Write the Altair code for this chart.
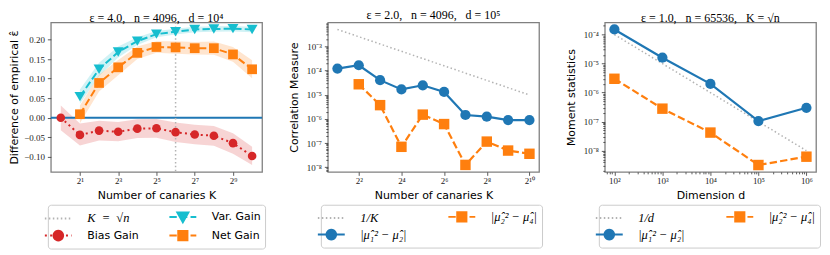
import math
import altair as alt
import pandas as pd

# ---------------- data ----------------
# Panel 1: eps = 4.0, n = 4096, d = 1e4
p1_K = [1, 2, 4, 8, 16, 32, 64, 128, 256, 512, 1024]
p1_bias = [0.000, -0.044, -0.033, -0.036, -0.028, -0.027, -0.037, -0.043, -0.046, -0.065, -0.098]
p1_bias_lo = [-0.032, -0.071, -0.058, -0.060, -0.052, -0.051, -0.062, -0.068, -0.072, -0.092, -0.121]
p1_bias_hi = [0.031, -0.015, -0.008, -0.011, -0.004, -0.003, -0.012, -0.018, -0.021, -0.040, -0.074]

p1_gain_K = [2, 4, 8, 16, 32, 64, 128, 256, 512, 1024]
p1_var = [0.054, 0.124, 0.168, 0.196, 0.214, 0.220, 0.226, 0.227, 0.228, 0.226]
p1_var_lo = [0.036, 0.107, 0.154, 0.186, 0.206, 0.213, 0.219, 0.220, 0.221, 0.219]
p1_var_hi = [0.072, 0.141, 0.182, 0.206, 0.222, 0.228, 0.233, 0.234, 0.235, 0.233]
p1_net = [0.009, 0.089, 0.129, 0.166, 0.181, 0.180, 0.178, 0.178, 0.162, 0.124]
p1_net_lo = [-0.014, 0.067, 0.109, 0.150, 0.166, 0.164, 0.162, 0.161, 0.143, 0.101]
p1_net_hi = [0.031, 0.110, 0.148, 0.182, 0.196, 0.196, 0.194, 0.195, 0.181, 0.147]
p1_sqrt_n = [64]
p1_zero = [0.0]

# Panel 2: eps = 2.0, n = 4096, d = 1e5
p2_K = [2, 4, 8, 16, 32, 64, 128, 256, 512, 1024]
p2_m1 = [1.2e-4, 1.65e-4, 4.0e-5, 1.65e-5, 2.45e-5, 1.3e-5, 1.45e-6, 1.23e-6, 8.9e-7, 8.9e-7]
p2_m2_K = [4, 8, 16, 32, 64, 128, 256, 512, 1024]
p2_m2 = [2.7e-5, 3.7e-6, 7.0e-8, 1.5e-6, 6.1e-7, 1.25e-8, 1.15e-7, 4.9e-8, 3.6e-8]
p2_ref = [5.0e-3, 2.5e-3, 1.25e-3, 6.25e-4, 3.125e-4, 1.5625e-4, 7.8125e-5, 3.90625e-5, 1.953125e-5, 9.765625e-6]

# Panel 3: eps = 1.0, n = 65536, K = sqrt(n)
p3_d = [1e2, 1e3, 1e4, 1e5, 1e6]
p3_m1 = [1.5e-4, 1.6e-5, 2.0e-6, 1.05e-7, 3.0e-7]
p3_m2 = [3.0e-6, 2.8e-7, 4.2e-8, 3.2e-9, 6.2e-9]
p3_ref = [1e-4, 1e-5, 1e-6, 1e-7, 1e-8]

# ---------------- styling ----------------
BLUE, ORANGE, RED, CYAN, GRAY = "#1f77b4", "#ff7f0e", "#d62728", "#17becf", "#b3b3b3"
DOT = [2, 3.3]
DASH = [7.4, 3.2]
REFDOT = [1.5, 2.5]
W, H = 212, 150
SANS = "DejaVu Sans"
SERIF = "Liberation Serif"
EN = "\u2002"

SUP = "['⁰','¹','²','³','⁴','⁵','⁶','⁷','⁸','⁹']"


def sup_expr(e):
    return (f"(({e})<0?'⁻':'')+(abs({e})>=10?{SUP}[floor(abs({e})/10)]:'')"
            f"+{SUP}[abs({e})%10]")


POW2 = "'2'+" + sup_expr("round(log(datum.value)/LN2)")
MINOR10 = "abs(log(datum.value)/LN10-round(log(datum.value)/LN10))>0.001"
POW10 = f"{MINOR10}?'':'10'+" + "(" + sup_expr("round(log(datum.value)/LN10)") + ")"
TICK10 = {"condition": {"test": MINOR10, "value": 2}, "value": 3.5}


def log10_ticks(lo, hi):
    """major + minor tick positions of a decade axis inside [lo, hi]."""
    out = []
    for k in range(math.floor(math.log10(lo)) - 1, math.ceil(math.log10(hi)) + 1):
        for m in range(1, 10):
            v = m * 10.0 ** k
            if lo <= v <= hi:
                out.append(v)
    return out


# ---- legend symbol paths (line handle + marker), in symbol units ----
S = 7.0      # sqrt(symbolSize)/2
HALF = 13.5  # half handle length in px


def f(v):
    return f"{v / S:.3f}"


def line_path(pattern):
    segs = []
    if not pattern:
        segs = [(-HALF, HALF)]
    else:
        x, i = -HALF, 0
        while x < HALF:
            L = pattern[i % 2]
            if i % 2 == 0:
                segs.append((x, min(x + L, HALF)))
            x += L
            i += 1
    return "".join(f"M{f(a)},0L{f(b)},0" for a, b in segs)


def circle_path(r=4.8, n=24):
    pts = [(r * math.cos(2 * math.pi * i / n), r * math.sin(2 * math.pi * i / n)) for i in range(n)]
    return "M" + "L".join(f"{f(x)},{f(y)}" for x, y in pts) + "Z"


def square_path(h=4.6):
    return f"M{f(-h)},{f(-h)}L{f(h)},{f(-h)}L{f(h)},{f(h)}L{f(-h)},{f(h)}Z"


def tri_path():
    return f"M{f(-5.5)},{f(-4.5)}L{f(5.5)},{f(-4.5)}L{f(0)},{f(5.2)}Z"


def ternary(mapping, default, quote=True):
    q = "'" if quote else ""
    expr = f"{q}{default}{q}"
    for k, v in reversed(list(mapping.items())):
        expr = f"datum.value==='{k}'?{q}{v}{q}:({expr})"
    return expr


def make_legend(x, y, colpad, entries):
    # entries: list of (label, color, marker_path or None, dash pattern, is_math)
    shape_map = {lab: line_path(d) + (m or "") for lab, c, m, d, _ in entries}
    stroke_map = {lab: c for lab, c, m, d, _ in entries}
    font_map = {lab: (SERIF if mth else SANS) for lab, c, m, d, mth in entries}
    style_map = {lab: ("italic" if mth else "normal") for lab, c, m, d, mth in entries}
    fsize_map = {lab: (12.5 if mth else 11) for lab, c, m, d, mth in entries}
    return alt.Legend(
        title=None, orient="none", legendX=x, legendY=y, columns=2, direction="vertical",
        columnPadding=colpad, rowPadding=0, symbolSize=196, symbolOffset=-1.5,
        labelOffset=21, symbolStrokeWidth=2, padding=4, fillColor="white",
        strokeColor="#cccccc", cornerRadius=3, labelColor="black",
        labelLimit=300, symbolOpacity=1, titlePadding=0,
        symbolType={"expr": ternary(shape_map, "circle")},
        symbolStrokeColor={"expr": ternary(stroke_map, "black")},
        labelFont={"expr": ternary(font_map, SANS)},
        labelFontStyle={"expr": ternary(style_map, "normal")},
        labelFontSize={"expr": ternary(fsize_map, 11, quote=False)},
    )


def title(text):
    return alt.TitleParams(text, font=SERIF, fontSize=12, fontWeight="normal", offset=-3, color="black")


def carrier(labels, xs, ys, cs, leg, X, Y):
    # invisible marks that only carry the legend
    df = pd.DataFrame({"x": xs, "y": ys, "s": labels})
    return alt.Chart(df).mark_point(filled=True, opacity=0).encode(
        x=X, y=Y, color=alt.Color("s:N", scale=cs, legend=leg))


LEG_Y = 183


# ---------------- panel 1 ----------------
def panel1():
    L_REF, L_VAR, L_BIAS, L_NET = f"K{EN}={EN}√n", "Var. Gain", "Bias Gain", "Net Gain"
    dom = [L_REF, L_BIAS, L_VAR, L_NET]
    cs = alt.Scale(domain=dom, range=[GRAY, RED, CYAN, ORANGE])
    leg = make_legend(-3, LEG_Y, 25, [
        (L_REF, GRAY, None, REFDOT, True),
        (L_BIAS, RED, circle_path(), DOT, False),
        (L_VAR, CYAN, tri_path(), DASH, False),
        (L_NET, ORANGE, square_path(), DASH, False),
    ])
    X = alt.X("x:Q", scale=alt.Scale(type="log", base=2, domain=[2 ** -0.52, 2 ** 10.52], nice=False, zero=False),
              axis=alt.Axis(values=[2, 8, 32, 128, 512], labelExpr=POW2, title="Number of canaries K"))
    ys = alt.Scale(domain=[-0.1385, 0.244], nice=False, zero=False)
    yax = alt.Axis(values=[-0.10, -0.05, 0.0, 0.05, 0.10, 0.15, 0.20], format=".2f",
                   title="Difference of empirical ε̂", titlePadding=4)
    Y = alt.Y("y:Q", scale=ys, axis=yax)

    bias = pd.DataFrame({"x": p1_K, "y": p1_bias, "lo": p1_bias_lo, "hi": p1_bias_hi})
    var = pd.DataFrame({"x": p1_gain_K, "y": p1_var, "lo": p1_var_lo, "hi": p1_var_hi})
    net = pd.DataFrame({"x": p1_gain_K, "y": p1_net, "lo": p1_net_lo, "hi": p1_net_hi})
    ref = pd.DataFrame({"x": p1_sqrt_n})
    zero = pd.DataFrame({"y": p1_zero})

    def band(df, c):
        return alt.Chart(df).mark_area(color=c, opacity=0.2).encode(
            x=X, y=alt.Y("lo:Q", scale=ys, axis=yax), y2="hi:Q")

    def line(df, c, dash):
        return alt.Chart(df).mark_line(color=c, strokeWidth=2, strokeDash=dash).encode(x=X, y=Y)

    def pts(df, c, shape, size):
        return alt.Chart(df).mark_point(filled=True, shape=shape, size=size, color=c, opacity=1).encode(x=X, y=Y)

    layers = [
        band(bias, RED), band(var, CYAN), band(net, ORANGE),
        alt.Chart(zero).mark_rule(color=BLUE, strokeWidth=2).encode(y=Y),
        alt.Chart(ref).mark_rule(color=GRAY, strokeWidth=1.5, strokeDash=REFDOT).encode(x=X),
        line(bias, RED, DOT), line(var, CYAN, DASH), line(net, ORANGE, DASH),
        pts(bias, RED, "circle", 75), pts(var, CYAN, "triangle-down", 120), pts(net, ORANGE, "square", 95),
        carrier(dom, [p1_sqrt_n[0], p1_K[0], p1_gain_K[0], p1_gain_K[0]],
                [p1_zero[0], p1_bias[0], p1_var[0], p1_net[0]], cs, leg, X, Y),
    ]
    return alt.layer(*layers).properties(
        width=W, height=H, title=title(f"ε = 4.0,{EN} n = 4096,{EN} d = 10⁴"))


# ---------------- panels 2 and 3 ----------------
def log_panel(xs_vals, m1_x, m1, m2_x, m2, ref_y, ref_label, xscale, xaxis, ydom, ytitle, ttl, legx):
    L1 = "|μ̂₁² − μ̂₂|"
    L2 = "|μ̂₂² − μ̂₄|"
    dom = [ref_label, L1, L2]
    cs = alt.Scale(domain=dom, range=[GRAY, BLUE, ORANGE])
    leg = make_legend(legx, LEG_Y, 36, [
        (ref_label, GRAY, None, REFDOT, True),
        (L1, BLUE, circle_path(), [], True),
        (L2, ORANGE, square_path(), DASH, True),
    ])
    X = alt.X("x:Q", scale=xscale, axis=xaxis)
    Y = alt.Y("y:Q", scale=alt.Scale(type="log", domain=ydom, nice=False, zero=False),
              axis=alt.Axis(values=log10_ticks(*ydom), labelExpr=POW10, tickSize=TICK10,
                            labelOverlap=False, title=ytitle, titlePadding=7))
    d1 = pd.DataFrame({"x": m1_x, "y": m1})
    d2 = pd.DataFrame({"x": m2_x, "y": m2})
    dr = pd.DataFrame({"x": xs_vals, "y": ref_y})
    layers = [
        alt.Chart(dr).mark_line(color=GRAY, strokeWidth=1.5, strokeDash=REFDOT).encode(x=X, y=Y),
        alt.Chart(d2).mark_line(color=ORANGE, strokeWidth=2.2, strokeDash=DASH).encode(x=X, y=Y),
        alt.Chart(d1).mark_line(color=BLUE, strokeWidth=2.2).encode(x=X, y=Y),
        alt.Chart(d2).mark_point(filled=True, shape="square", size=110, color=ORANGE, opacity=1).encode(x=X, y=Y),
        alt.Chart(d1).mark_point(filled=True, shape="circle", size=105, color=BLUE, opacity=1).encode(x=X, y=Y),
        carrier(dom, [xs_vals[0], m1_x[0], m2_x[0]], [ref_y[0], m1[0], m2[0]], cs, leg, X, Y),
    ]
    return alt.layer(*layers).properties(width=W, height=H, title=title(ttl))


p2_xdom = [2 ** 0.55, 2 ** 10.45]
p2 = log_panel(
    p2_K, p2_K, p2_m1, p2_m2_K, p2_m2, p2_ref, "1/K",
    alt.Scale(type="log", base=2, domain=p2_xdom, nice=False, zero=False),
    alt.Axis(values=[4, 16, 64, 256, 1024], labelExpr=POW2, title="Number of canaries K"),
    [10 ** -8.19, 10 ** -2.01], "Correlation Measure", f"ε = 2.0,{EN} n = 4096,{EN} d = 10⁵", -7)

p3_xdom = [10 ** 1.8, 10 ** 6.2]
p3 = log_panel(
    p3_d, p3_d, p3_m1, p3_d, p3_m2, p3_ref, "1/d",
    alt.Scale(type="log", base=10, domain=p3_xdom, nice=False, zero=False),
    alt.Axis(values=log10_ticks(*p3_xdom), labelExpr=POW10, tickSize=TICK10, labelOverlap=False,
             title="Dimension d"),
    [10 ** -8.73, 10 ** -3.58], "Moment statistics", f"ε = 1.0,{EN} n = 65536,{EN} K = √n", -6)

chart = (
    alt.hconcat(panel1(), p2, p3, spacing=66, bounds="flush")
    .resolve_scale(color="independent")
    .resolve_legend(color="independent")
    .properties(padding=0)
    .configure_view(stroke="#808080", strokeWidth=1.3)
    .configure_axis(grid=False, domain=False, tickColor="#333333", tickSize=3.5, tickWidth=0.8,
                    labelFont=SERIF, labelFontSize=9, labelColor="#222222", labelPadding=3,
                    titleFont=SANS, titleFontSize=11, titleFontWeight="normal", titleColor="black",
                    titlePadding=4)
    .configure_axisX(labelPadding=1.5)
)

chart.save("out.html", embed_options={"renderer": "svg", "actions": False})
